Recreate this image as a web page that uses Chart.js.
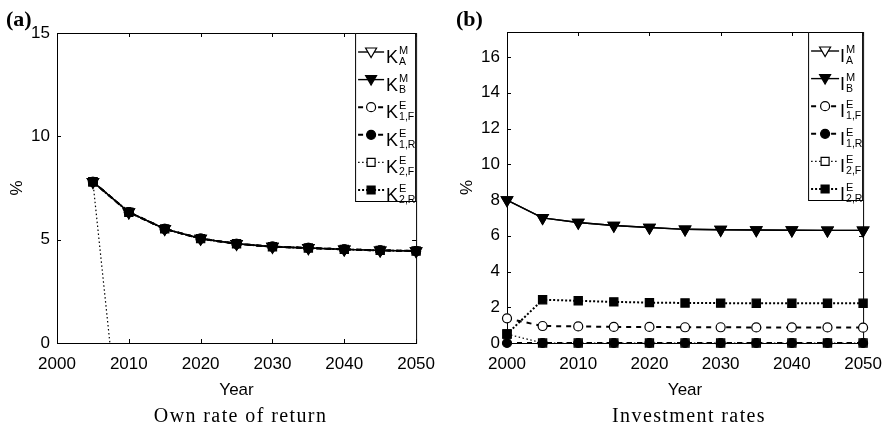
<!DOCTYPE html>
<html>
<head>
<meta charset="utf-8">
<script src="https://cdn.jsdelivr.net/npm/chart.js@4.4.1/dist/chart.umd.min.js"></script>
<style>
  html, body { margin: 0; padding: 0; background: #fff; }
  #wrap { position: relative; width: 893px; height: 429px; }
  canvas { position: absolute; top: 0; }
</style>
</head>
<body>
<div id="wrap">
  <canvas id="chartA" width="446" height="429" style="left:0px"></canvas>
  <canvas id="chartB" width="447" height="429" style="left:446px"></canvas>
</div>
<script>
// ---- data ----
const years = [2000, 2005, 2010, 2015, 2020, 2025, 2030, 2035, 2040, 2045, 2050];
const xTicks = [2000, 2010, 2020, 2030, 2040, 2050];
const yTicksA = [0, 5, 10, 15];
const yTicksB = [0, 2, 4, 6, 8, 10, 12, 14, 16];

// (a) own rate of return
const kMA  = [null, 7.8, 6.33, 5.52, 5.05, 4.8, 4.66, 4.6, 4.53, 4.48, 4.45];
const kMB  = [null, 7.8, 6.33, 5.52, 5.05, 4.8, 4.66, 4.6, 4.53, 4.48, 4.45];
const kE1F = [null, 7.8, 6.33, 5.52, 5.05, 4.8, 4.66, 4.6, 4.53, 4.48, 4.45];
const kE1R = [null, 7.8, 6.33, 5.52, 5.05, 4.8, 4.66, 4.6, 4.53, 4.48, 4.45];
const kE2F = [null, 7.8, -8.7, -8.7, -8.7, -8.7, -8.7, -8.7, -8.7, -8.7, -8.7];
const kE2R = [null, 7.8, 6.33, 5.52, 5.05, 4.8, 4.66, 4.6, 4.53, 4.48, 4.45];

// (b) investment rates
const iMA  = [8.0, 7.0, 6.74, 6.57, 6.46, 6.36, 6.34, 6.32, 6.31, 6.3, 6.3];
const iMB  = [8.0, 7.0, 6.74, 6.57, 6.46, 6.36, 6.34, 6.32, 6.31, 6.3, 6.3];
const iE1F = [1.38, 0.95, 0.93, 0.9, 0.9, 0.88, 0.88, 0.87, 0.87, 0.87, 0.86];
const iE1R = [0, 0, 0, 0, 0, 0, 0, 0, 0, 0, 0];
const iE2F = [0.5, 0, 0, 0, 0, 0, 0, 0, 0, 0, 0];
const iE2R = [0.5, 2.42, 2.36, 2.3, 2.26, 2.24, 2.23, 2.22, 2.22, 2.22, 2.22];

const supers = ["M", "M", "E", "E", "E", "E"];
const subs = ["A", "B", "1,F", "1,R", "2,F", "2,R"];

// ---- styles ----
const SANS = '"Liberation Sans", Arial, Helvetica, sans-serif';
const SERIF = '"Liberation Serif", "Times New Roman", serif';

// z: higher drawn on top
const styles = [
    { shape: "tri",  filled: false, dash: [],         width: 1.4, z: 0 },
    { shape: "tri",  filled: true,  dash: [],         width: 1.4, z: 3 },
    { shape: "circ", filled: false, dash: [5, 5],     width: 2,   z: 2 },
    { shape: "circ", filled: true,  dash: [5, 5],     width: 2,   z: 4 },
    { shape: "rect", filled: false, dash: [1.5, 2.5], width: 1.2, z: 1 },
    { shape: "rect", filled: true,  dash: [2, 2],     width: 2,   z: 5 },
];

Chart.defaults.color = "#000";
Chart.defaults.font.family = SANS;

function makeDataset(values, st, clipIt) {
    const chartStyle = { tri: "triangle", circ: "circle", rect: "rect" }[st.shape];
    const radius = { tri: 6.5, circ: 4.5, rect: 5.8 }[st.shape];
    return {
        data: years.map((yr, i) => ({ x: yr, y: values[i] })),
        order: 10 - st.z,
        borderColor: "#000",
        borderWidth: st.width,
        borderDash: st.dash,
        backgroundColor: st.filled ? "#000" : "#fff",
        pointStyle: chartStyle,
        pointRotation: st.shape === "tri" ? 180 : 0,
        pointRadius: radius,
        pointBorderWidth: 1.2,
        pointBorderColor: "#000",
        pointBackgroundColor: st.filled ? "#000" : "#fff",
        tension: 0,
        spanGaps: false,
        clip: clipIt ? 0 : false,
    };
}

function drawMarker(ctx, st, x, y) {
    ctx.save();
    ctx.setLineDash([]);
    ctx.beginPath();
    if (st.shape === "tri") {
        ctx.moveTo(x - 5.5, y - 4);
        ctx.lineTo(x + 5.5, y - 4);
        ctx.lineTo(x, y + 5.5);
        ctx.closePath();
    } else if (st.shape === "circ") {
        ctx.arc(x, y, 4.5, 0, Math.PI * 2);
    } else {
        ctx.rect(x - 4, y - 4, 8, 8);
    }
    ctx.fillStyle = st.filled ? "#000" : "#fff";
    ctx.fill();
    ctx.lineWidth = 1.2;
    ctx.strokeStyle = "#000";
    ctx.stroke();
    ctx.restore();
}

// box around the axes with inward ticks on all sides
const framePlugin = {
    id: "frame",
    beforeDatasetsDraw(chart) {
        const { ctx, chartArea: a, scales } = chart;
        const t = 4;
        ctx.save();
        ctx.strokeStyle = "#000";
        ctx.lineWidth = 1;
        ctx.strokeRect(a.left + 0.5, a.top + 0.5, a.right - a.left, a.bottom - a.top);
        ctx.beginPath();
        scales.x.ticks.forEach(tk => {
            const px = Math.round(scales.x.getPixelForValue(tk.value)) + 0.5;
            ctx.moveTo(px, a.bottom); ctx.lineTo(px, a.bottom - t);
            ctx.moveTo(px, a.top); ctx.lineTo(px, a.top + t);
        });
        scales.y.ticks.forEach(tk => {
            const py = Math.round(scales.y.getPixelForValue(tk.value)) + 0.5;
            ctx.moveTo(a.left, py); ctx.lineTo(a.left + t, py);
            ctx.moveTo(a.right, py); ctx.lineTo(a.right - t, py);
        });
        ctx.stroke();
        ctx.restore();
    }
};

function makePanel(id, opts) {
    const W = document.getElementById(id).width;
    const H = 429;

    const legendPlugin = {
        id: "boxLegend",
        afterDatasetsDraw(chart) {
            const { ctx, chartArea: a } = chart;
            const x0 = a.right - opts.legendW;
            const y0 = a.top;
            ctx.save();
            ctx.fillStyle = "#fff";
            ctx.fillRect(x0, y0, opts.legendW, 168);
            ctx.strokeStyle = "#000";
            ctx.lineWidth = 1;
            ctx.strokeRect(x0 + 0.5, y0 + 0.5, opts.legendW - 1, 168);
            styles.forEach((st, i) => {
                const cy = y0 + 19 + i * 27.6;
                ctx.beginPath();
                ctx.setLineDash(st.dash);
                ctx.lineWidth = st.width;
                ctx.moveTo(x0 + 3, cy);
                ctx.lineTo(x0 + opts.markerX * 2 - 3, cy);
                ctx.stroke();
                ctx.setLineDash([]);
                drawMarker(ctx, st, x0 + opts.markerX, cy);
                const tx = x0 + opts.textX;
                ctx.fillStyle = "#000";
                ctx.textAlign = "left";
                ctx.textBaseline = "alphabetic";
                ctx.font = "18px " + SANS;
                ctx.fillText(opts.symbol, tx, cy + 11);
                const w = ctx.measureText(opts.symbol).width;
                ctx.font = "11px " + SANS;
                ctx.fillText(supers[i], tx + w + 1, cy + 2);
                ctx.font = "10.5px " + SANS;
                ctx.fillText(subs[i], tx + w + 1, cy + 13);
            });
            ctx.restore();
        }
    };

    const textPlugin = {
        id: "texts",
        afterDraw(chart) {
            const { ctx, chartArea: a } = chart;
            const cx = (a.left + a.right) / 2;
            ctx.save();
            ctx.fillStyle = "#000";
            ctx.textBaseline = "alphabetic";
            ctx.textAlign = "left";
            ctx.font = "bold 22px " + SERIF;
            ctx.fillText(opts.letter, a.left - 51, 26);
            ctx.textAlign = "center";
            ctx.font = "17px " + SANS;
            ctx.fillText("Year", cx, 395);
            ctx.font = "20px " + SERIF;
            ctx.letterSpacing = "1.4px";
            ctx.fillText(opts.caption, cx + 4, 422);
            ctx.letterSpacing = "0px";
            ctx.translate(a.left - 40, (a.top + a.bottom) / 2);
            ctx.rotate(-Math.PI / 2);
            ctx.textBaseline = "middle";
            ctx.font = "17px " + SANS;
            ctx.fillText("%", 0, 0);
            ctx.restore();
        }
    };

    return new Chart(document.getElementById(id), {
        type: "line",
        data: {
            datasets: opts.series.map((vals, i) => makeDataset(vals, styles[i], opts.clip[i]))
        },
        options: {
            responsive: false,
            animation: false,
            layout: { padding: { left: 0, top: opts.area.top, right: W - opts.area.right, bottom: 0 } },
            plugins: { legend: { display: false }, tooltip: { enabled: false } },
            scales: {
                x: {
                    type: "linear",
                    min: 2000, max: 2050,
                    grid: { display: false, drawTicks: false },
                    border: { display: false },
                    afterBuildTicks: s => { s.ticks = xTicks.map(v => ({ value: v })); },
                    afterFit: s => { s.height = H - opts.area.bottom; },
                    ticks: { padding: 11, maxRotation: 0, font: { size: 17 }, callback: v => String(v) }
                },
                y: {
                    min: 0, max: opts.yMax,
                    grid: { display: false, drawTicks: false },
                    border: { display: false },
                    afterBuildTicks: s => { s.ticks = opts.yTicks.map(v => ({ value: v })); },
                    afterFit: s => { s.width = opts.area.left; },
                    ticks: { padding: 7, font: { size: 17 }, callback: v => String(v) }
                }
            }
        },
        plugins: [framePlugin, legendPlugin, textPlugin]
    });
}

makePanel("chartA", {
    area: { left: 57, right: 418, top: 33, bottom: 343 },
    yMax: 15,
    yTicks: yTicksA,
    series: [kMA, kMB, kE1F, kE1R, kE2F, kE2R],
    clip: [false, false, false, false, true, false],
    symbol: "K",
    legendW: 61,
    markerX: 16,
    textX: 31,
    letter: "(a)",
    caption: "Own rate of return"
});

makePanel("chartB", {
    area: { left: 61, right: 423, top: 32, bottom: 343 },
    yMax: 17.4,
    yTicks: yTicksB,
    series: [iMA, iMB, iE1F, iE1R, iE2F, iE2R],
    clip: [false, false, false, false, false, false],
    symbol: "I",
    legendW: 55,
    markerX: 17,
    textX: 32,
    letter: "(b)",
    caption: "Investment rates"
});
</script>
</body>
</html>
